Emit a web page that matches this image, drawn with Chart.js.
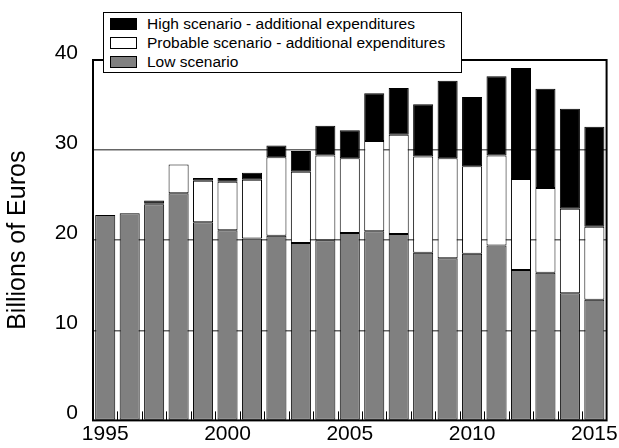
<!DOCTYPE html>
<html>
<head>
<meta charset="utf-8">
<script src="https://cdn.jsdelivr.net/npm/chart.js@4"></script>
<style>
  html, body { margin: 0; padding: 0; background: #fff; }
  #wrap { position: relative; width: 619px; height: 448px; }
  #legend {
    position: absolute; left: 103px; top: 12px; width: 357px; height: 59px;
    border: 1px solid #000; background: #fff;
    font-family: "Liberation Sans", Arial, sans-serif; font-size: 15.5px; color: #000;
  }
  .item { position: absolute; left: 6px; height: 19px; line-height: 19px; white-space: nowrap; }
  .sw { display: inline-block; width: 25px; height: 10px; border: 1px solid #000; vertical-align: -1px; margin-right: 10px; }
</style>
</head>
<body>
<div id="wrap">
  <canvas id="chart"></canvas>
  <div id="legend"></div>
</div>
<script>
const years = ['1995','1996','1997','1998','1999','2000','2001','2002','2003','2004','2005',
               '2006','2007','2008','2009','2010','2011','2012','2013','2014','2015'];
// Low scenario
const lowValues = [22.8, 23.0, 24.0, 25.2, 22.0, 21.1, 20.2, 20.5, 19.7, 20.0, 20.8,
                   21.0, 20.7, 18.6, 18.0, 18.5, 19.4, 16.7, 16.4, 14.1, 13.4];
// Probable scenario - additional (on top of low)
const probableExtra = [0, 0, 0.1, 3.2, 4.6, 5.4, 6.5, 8.7, 7.9, 9.4, 8.3,
                       10.0, 11.0, 10.7, 11.1, 9.7, 10.0, 10.1, 9.4, 9.4, 8.1];
// High scenario - additional (on top of probable)
const highExtra = [0, 0, 0.3, 0, 0.3, 0.4, 0.8, 1.3, 2.3, 3.3, 3.1,
                   5.3, 5.2, 5.8, 8.6, 7.7, 8.8, 12.3, 11.0, 11.1, 11.1];
const yTicks = [0, 10, 20, 30, 40];

const seriesNames = ['High scenario - additional expenditures',
                     'Probable scenario - additional expenditures',
                     'Low scenario'];
const seriesColors = ['#000000', '#ffffff', '#808080'];
const font = '"Liberation Sans", Arial, sans-serif';

// html legend in the top-left corner, overlapping the frame like the original
const legendDiv = document.getElementById('legend');
seriesNames.forEach((name, i) => {
    const row = document.createElement('div');
    row.className = 'item';
    row.style.top = (1 + i * 19) + 'px';
    row.innerHTML = '<span class="sw" style="background:' + seriesColors[i] + '"></span>' + name;
    legendDiv.appendChild(row);
});

const frameAndTicks = {
    id: 'frameAndTicks',
    afterDatasetsDraw(chart) {
        const { ctx, chartArea } = chart;
        const x = chart.scales.x;
        const step = (x.right - x.left) / years.length;
        ctx.save();
        ctx.strokeStyle = '#000';
        ctx.lineWidth = 1;
        for (let i = 1; i < years.length; i++) {
            const px = Math.round(x.left + i * step) + 0.5;
            ctx.beginPath();
            ctx.moveTo(px, chartArea.bottom);
            ctx.lineTo(px, chartArea.bottom - 9);
            ctx.stroke();
        }
        ctx.lineWidth = 2;
        ctx.strokeRect(chartArea.left, chartArea.top, chartArea.right - chartArea.left, chartArea.bottom - chartArea.top);
        ctx.restore();
    }
};

new Chart(document.getElementById('chart'), {
    type: 'bar',
    data: {
        labels: years,
        datasets: [
            { label: seriesNames[2], data: lowValues, backgroundColor: seriesColors[2] },
            { label: seriesNames[1], data: probableExtra, backgroundColor: seriesColors[1] },
            { label: seriesNames[0], data: highExtra, backgroundColor: seriesColors[0] }
        ].map(d => Object.assign(d, {
            borderColor: '#000', borderWidth: 1, borderSkipped: false,
            barPercentage: 0.82, categoryPercentage: 1.0
        }))
    },
    options: {
        responsive: true,
        maintainAspectRatio: false,
        animation: false,
        layout: { padding: { top: 60, right: 12, bottom: 0, left: 0 } },
        plugins: { legend: { display: false }, tooltip: { enabled: false } },
        scales: {
            x: {
                stacked: true,
                grid: { display: false, drawTicks: false },
                border: { display: false },
                ticks: {
                    autoSkip: false, maxRotation: 0, padding: 1,
                    color: '#000',
                    font: { family: font, size: 21 },
                    callback: (v, i) => (Number(years[i]) % 5 === 0 ? years[i] : '')
                },
                afterFit: s => { s.height = 24; }
            },
            y: {
                stacked: true,
                min: 0, max: 40,
                afterBuildTicks: s => { s.ticks = yTicks.map(v => ({ value: v })); },
                grid: {
                    drawTicks: false,
                    color: c => (c.tick.value === 0 || c.tick.value === 40) ? 'rgba(0,0,0,0)' : '#666666',
                    lineWidth: 1.5
                },
                border: { display: false },
                ticks: {
                    padding: 15, labelOffset: -7, color: '#000',
                    font: { family: font, size: 21 }
                },
                title: {
                    display: true, text: 'Billions of Euros', color: '#000',
                    font: { family: font, size: 25 },
                    padding: { top: 3, bottom: 0 }
                },
                afterFit: s => { s.width = 93; }
            }
        }
    },
    plugins: [frameAndTicks]
});
</script>
</body>
</html>
